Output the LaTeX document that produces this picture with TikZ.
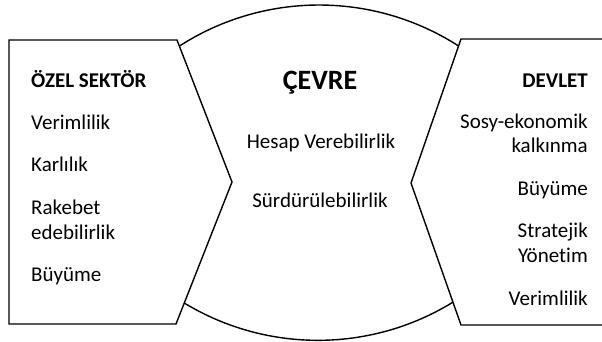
\documentclass[tikz,border=0pt]{standalone}
\usepackage{fontspec}
\setmainfont{Carlito}[Ligatures={NoCommon,NoContextual}]
\begin{document}
\begin{tikzpicture}[x=1pt,y=-1pt,
  outline/.style={draw=black,line width=1.4pt,fill=white,line join=miter},
  body/.style={inner sep=0pt,font=\fontsize{21}{25}\selectfont},
  head/.style={inner sep=0pt,font=\fontsize{21}{25}\selectfont\bfseries},
  big/.style={inner sep=0pt,font=\fontsize{28}{32}\selectfont\bfseries}]
\useasboundingbox (0,0) rectangle (602,341);
% central lens (partly hidden by the side shapes)
\draw[outline] (160.2,59.7) arc[start angle=-128,end angle=-52,radius=258]
  -- (471,290) arc[start angle=53.6,end angle=126.4,radius=258] -- cycle;
% left shape
\draw[outline] (9,40) -- (177,40) -- (232,182) -- (176,324) -- (9,324) -- cycle;
% right shape (open to the right edge)
\fill[white] (605,39) -- (461,39) -- (411,183) -- (461,325) -- (605,325) -- cycle;
\draw[line width=1.4pt,line join=miter] (605,39) -- (461,39) -- (411,183) -- (461,325) -- (605,325);
% left texts
\node[head,anchor=base west] (l0) at (31,87) {ÖZEL SEKTÖR};
\node[body,anchor=base west] (l1) at (31,129) {Verimlilik};
\node[body,anchor=base west] (l2) at (31,171) {Karlılık};
\node[body,anchor=base west] (l3) at (31,214) {Rakebet};
\node[body,anchor=base west] (l4) at (31,239) {edebilirlik};
\node[body,anchor=base west] (l5) at (31,281) {Büyüme};
% centre texts
\node[big,anchor=base] (c0) at (320,89) {ÇEVRE};
\node[body,anchor=base] (c1) at (321,148) {Hesap Verebilirlik};
\node[body,anchor=base] (c2) at (320,207) {Sürdürülebilirlik};
% right texts
\node[head,anchor=base east] (r0) at (588,87) {DEVLET};
\node[body,anchor=base east] (r1) at (588,128) {Sosy-ekonomik};
\node[body,anchor=base east] (r2) at (588,152) {kalkınma};
\node[body,anchor=base east] (r3) at (588,195) {Büyüme};
\node[body,anchor=base east] (r4) at (588,237) {Stratejik};
\node[body,anchor=base east] (r5) at (588,262) {Yönetim};
\node[body,anchor=base east] (r6) at (588,305) {Verimlilik};
\end{tikzpicture}
\end{document}
